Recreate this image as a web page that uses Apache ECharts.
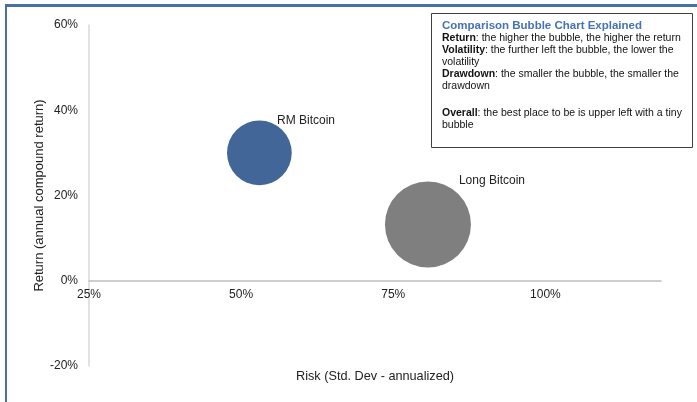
<!DOCTYPE html>
<html>
<head>
<meta charset="utf-8">
<script src="https://cdn.jsdelivr.net/npm/echarts@6/dist/echarts.min.js"></script>
<style>
html,body{margin:0;padding:0;background:#fff;}
#c{width:697px;height:402px;}
</style>
</head>
<body>
<div id="c"></div>
<script>
// ---- data ----
var names = ['RM Bitcoin', 'Long Bitcoin'];
var risk = [0.53, 0.807];          // std dev annualized
var returns = [0.30, 0.132];       // annual compound return
var drawdown = [0.47, 0.83];       // max drawdown (bubble size)
var yTicks = [-0.2, 0, 0.2, 0.4, 0.6];
var xTicks = [0.25, 0.5, 0.75, 1.0];
var explainTitle = 'Comparison Bubble Chart Explained';
var explainLines = [
  ['Return', ': the higher the bubble, the higher the return'],
  ['Volatility', ': the further left the bubble, the lower the'],
  ['', 'volatility'],
  ['Drawdown', ': the smaller the bubble, the smaller the'],
  ['', 'drawdown'],
  ['Overall', ': the best place to be is upper left with a tiny'],
  ['', 'bubble']
];

// ---- styles ----
var colors = ['#426697', '#7f7f7f'];
var labelPos = [[50, -6], [74, -7]];
var FONT = '"Liberation Sans", Arial, sans-serif';
var lineY = [38.5, 50.5, 62.5, 74, 86, 113, 125];

var chart = echarts.init(document.getElementById('c'));

var seriesData = names.map(function (n, i) {
  return {
    name: n,
    value: [risk[i], returns[i], drawdown[i]],
    itemStyle: { color: colors[i], opacity: 1 },
    label: { position: labelPos[i] }
  };
});

var graphics = [
  { type: 'rect', shape: { x: 5, y: 4, width: 692, height: 3 }, style: { fill: '#4a6fa5' }, z: 10 },
  { type: 'rect', shape: { x: 5, y: 4, width: 2, height: 398 }, style: { fill: '#4a6fa5' }, z: 10 },
  { type: 'rect', shape: { x: 431.5, y: 13.5, width: 261, height: 134 }, style: { fill: '#fff', stroke: '#404040', lineWidth: 1 }, z: 10 },
  { type: 'text', x: 442, y: 26, z: 11,
    style: { text: explainTitle, fontFamily: FONT, fontSize: 11.5, fontWeight: 'bold', fill: '#4673b3', verticalAlign: 'middle' } }
];
explainLines.forEach(function (ln, i) {
  var txt = (ln[0] ? '{b|' + ln[0] + '}' : '') + '{n|' + ln[1] + '}';
  graphics.push({
    type: 'text', x: 442, y: lineY[i], z: 11,
    style: {
      text: txt, fontFamily: FONT, fontSize: 10.5, fill: '#111', verticalAlign: 'middle',
      rich: {
        b: { fontFamily: FONT, fontSize: 10.5, fontWeight: 'bold', fill: '#111' },
        n: { fontFamily: FONT, fontSize: 10.5, fill: '#111' }
      }
    }
  });
});

chart.setOption({
  animation: false,
  textStyle: { fontFamily: FONT },
  grid: { left: 89, right: 36, top: 25, bottom: 36, containLabel: false, outerBoundsMode: 'none' },
  xAxis: {
    type: 'value',
    min: 0.25, max: 1.19, interval: 0.25,
    offset: -85.25,
    splitLine: { show: false },
    axisTick: { show: false },
    axisLine: { show: true, onZero: false, lineStyle: { color: '#bfbfbf', width: 1.5 } },
    axisLabel: {
      color: '#222', fontSize: 12, margin: 8, showMaxLabel: false,
      formatter: function (v) { return xTicks.indexOf(Math.round(v * 100) / 100) >= 0 ? Math.round(v * 100) + '%' : ''; }
    },
    name: 'Risk (Std. Dev - annualized)',
    nameLocation: 'middle', nameGap: 89, nameMoveOverlap: false,
    nameTextStyle: { color: '#222', fontSize: 12.7 }
  },
  yAxis: {
    type: 'value',
    min: -0.2, max: 0.6, interval: 0.2,
    splitLine: { show: false },
    axisTick: { show: false },
    axisLine: { show: true, lineStyle: { color: '#d9d9d9', width: 1.5 } },
    axisLabel: {
      color: '#222', fontSize: 12, margin: 11,
      formatter: function (v) { return Math.round(v * 100) + '%'; }
    },
    name: 'Return (annual compound return)',
    nameLocation: 'middle', nameGap: 43, nameMoveOverlap: false,
    nameTextStyle: { color: '#222', fontSize: 13 }
  },
  series: [{
    type: 'scatter',
    data: seriesData,
    symbolSize: function (val) { return 94.4 * Math.sqrt(val[2]); },
    label: { show: true, formatter: '{b}', color: '#222', fontSize: 12 },
    emphasis: { disabled: true }
  }],
  graphic: graphics
});
</script>
</body>
</html>
